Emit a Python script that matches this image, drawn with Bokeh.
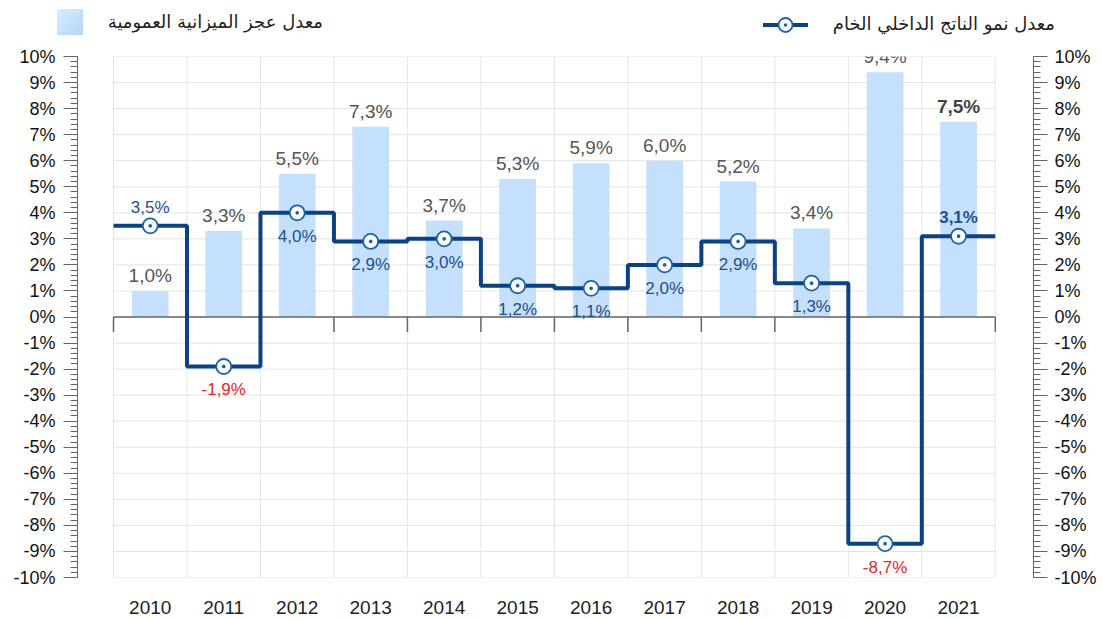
import math
from bokeh.plotting import figure
from bokeh.layouts import column
from bokeh.models import (Range1d, LinearAxis, FixedTicker, SingleIntervalTicker,
                          PrintfTickFormatter, ColumnDataSource, Div)
from bokeh.core.properties import value
from bokeh.embed import file_html
from bokeh.resources import INLINE

# ---- data ----
years = ["2010", "2011", "2012", "2013", "2014", "2015", "2016", "2017", "2018", "2019", "2020", "2021"]
deficit = [1.0, 3.3, 5.5, 7.3, 3.7, 5.3, 5.9, 6.0, 5.2, 3.4, 9.4, 7.5]
gdp = [3.5, -1.9, 4.0, 2.9, 3.0, 1.2, 1.1, 2.0, 2.9, 1.3, -8.7, 3.1]
deficit_name = "معدل عجز الميزانية العمومية"
gdp_name = "معدل نمو الناتج الداخلي الخام"
y_min, y_max = -10, 10

# ---- styles ----
gdp_label_side = ["above"] + ["below"] * 10 + ["above"]
bold_last = True
BAR = "#c4e0fc"
LINE = "#0b4283"
MARK = "#1d62ad"
GRID = "#e4e4e4"
FONT = "Liberation Sans"
AR_FONT = "DejaVu Sans"
W = 1100
HEAD_H = 44

n = len(years)
xs = list(range(n))
edges = [i - 0.5 for i in range(n + 1)]

def fmt(v):
    return f"{v:.1f}".replace(".", ",") + "%"

# ---------------- header legend ----------------
legend_html = f"""
<div style="position:relative;width:{W}px;height:{HEAD_H}px;font-family:'{AR_FONT}';color:#222222;">
  <div style="position:absolute;left:57px;top:9px;width:26px;height:26px;
              background:linear-gradient(135deg,#d9ecfe 0%,#b3d6fc 100%);"></div>
  <div style="position:absolute;right:{W - 323}px;top:9px;height:26px;line-height:26px;
              font-size:18px;white-space:nowrap;direction:rtl;">{deficit_name}</div>
  <svg style="position:absolute;left:763px;top:12px;" width="46" height="26">
    <line x1="0" y1="13" x2="45" y2="13" stroke="{LINE}" stroke-width="4"/>
    <circle cx="22.5" cy="13" r="7" fill="white" stroke="{MARK}" stroke-width="1.8"/>
    <circle cx="22.5" cy="13" r="1.8" fill="{MARK}"/>
  </svg>
  <div style="position:absolute;right:{W - 1055}px;top:11px;height:26px;line-height:26px;
              font-size:18px;white-space:nowrap;direction:rtl;">{gdp_name}</div>
</div>
"""
h = Div(text=legend_html, width=W, height=HEAD_H, margin=0)

# ---------------- main chart ----------------
p = figure(width=W, height=619 - HEAD_H, output_backend="svg", toolbar_location=None,
           x_range=Range1d(-0.99, n - 0.5 + 0.52), y_range=Range1d(y_min, y_max),
           x_axis_type=None, y_axis_type=None,
           min_border_left=77, min_border_right=67, min_border_top=56 - HEAD_H,
           min_border_bottom=42, margin=0)
p.outline_line_color = None
p.background_fill_color = "white"
p.border_fill_color = "white"

# grid
gy = list(range(y_min, y_max + 1))
p.segment(x0=[edges[0]] * len(gy), x1=[edges[-1]] * len(gy), y0=gy, y1=gy,
          line_color=GRID, line_width=1)
p.segment(x0=edges, x1=edges, y0=[y_min] * len(edges), y1=[y_max] * len(edges),
          line_color=GRID, line_width=1)

# bars
bars = p.vbar(x=xs, top=deficit, bottom=0, width=0.5, fill_color=BAR, line_color=None)

# zero line + ticks
p.segment(x0=[edges[0]], x1=[edges[-1]], y0=[0], y1=[0], line_color="#666666", line_width=1.5)
p.ray(x=edges, y=[0] * len(edges), length=15, length_units="screen", angle=-math.pi / 2,
      line_color="#666666", line_width=1.5)

# step line
step_x = edges
step_y = gdp + [gdp[-1]]
line = p.step(x=step_x, y=step_y, mode="after", line_color=LINE, line_width=4)
marks = p.scatter(x=xs, y=gdp, marker="circle_dot", size=15, fill_color="white",
                  line_color=MARK, line_width=1.8)

# bar labels
bar_src = ColumnDataSource(dict(
    x=xs, y=deficit, t=[fmt(v) for v in deficit],
    c=["#555555"] * (n - 1) + ["#444444"],
    s=["normal"] * (n - 1) + ["bold" if bold_last else "normal"]))
p.text(x="x", y="y", text="t", source=bar_src, text_align="center", text_baseline="bottom",
       y_offset=-5, text_font_size="19px", text_color="c", text_font_style="s",
       text_font=value(FONT))

# gdp labels
gdp_src = ColumnDataSource(dict(
    x=xs, y=gdp, t=[fmt(v) for v in gdp],
    c=["#e3262a" if v < 0 else "#234f8e" for v in gdp],
    s=["normal"] * (n - 1) + ["bold" if bold_last else "normal"],
    b=["bottom" if s == "above" else "top" for s in gdp_label_side],
    o=[-9 if s == "above" else 14 for s in gdp_label_side]))
p.text(x="x", y="y", text="t", source=gdp_src, text_align="center", text_baseline="b",
       y_offset="o", text_font_size="17px", text_color="c", text_font_style="s",
       text_font=value(FONT))

# y axes
for side in ("left", "right"):
    ax = LinearAxis(ticker=SingleIntervalTicker(interval=1, num_minor_ticks=5),
                    formatter=PrintfTickFormatter(format="%d%%"))
    ax.major_label_text_font = FONT
    ax.major_label_text_font_size = "18px"
    ax.major_label_text_color = "#111111"
    ax.axis_line_color = "#666666"
    ax.major_tick_line_color = "#666666"
    ax.minor_tick_line_color = "#666666"
    ax.major_tick_out = 14
    ax.major_tick_in = 0
    ax.minor_tick_out = 7
    ax.minor_tick_in = 0
    ax.major_label_standoff = 8 if side == "left" else 7
    p.add_layout(ax, side)

# x axis
xax = LinearAxis(ticker=FixedTicker(ticks=xs),
                 major_label_overrides={i: y for i, y in enumerate(years)})
xax.axis_line_color = None
xax.major_tick_line_color = None
xax.minor_tick_line_color = None
xax.major_label_text_font = FONT
xax.major_label_text_font_size = "19px"
xax.major_label_text_color = "#222222"
xax.major_label_standoff = 17
p.add_layout(xax, "below")

open("out.html", "w").write(file_html(column(h, p, spacing=0), INLINE))
